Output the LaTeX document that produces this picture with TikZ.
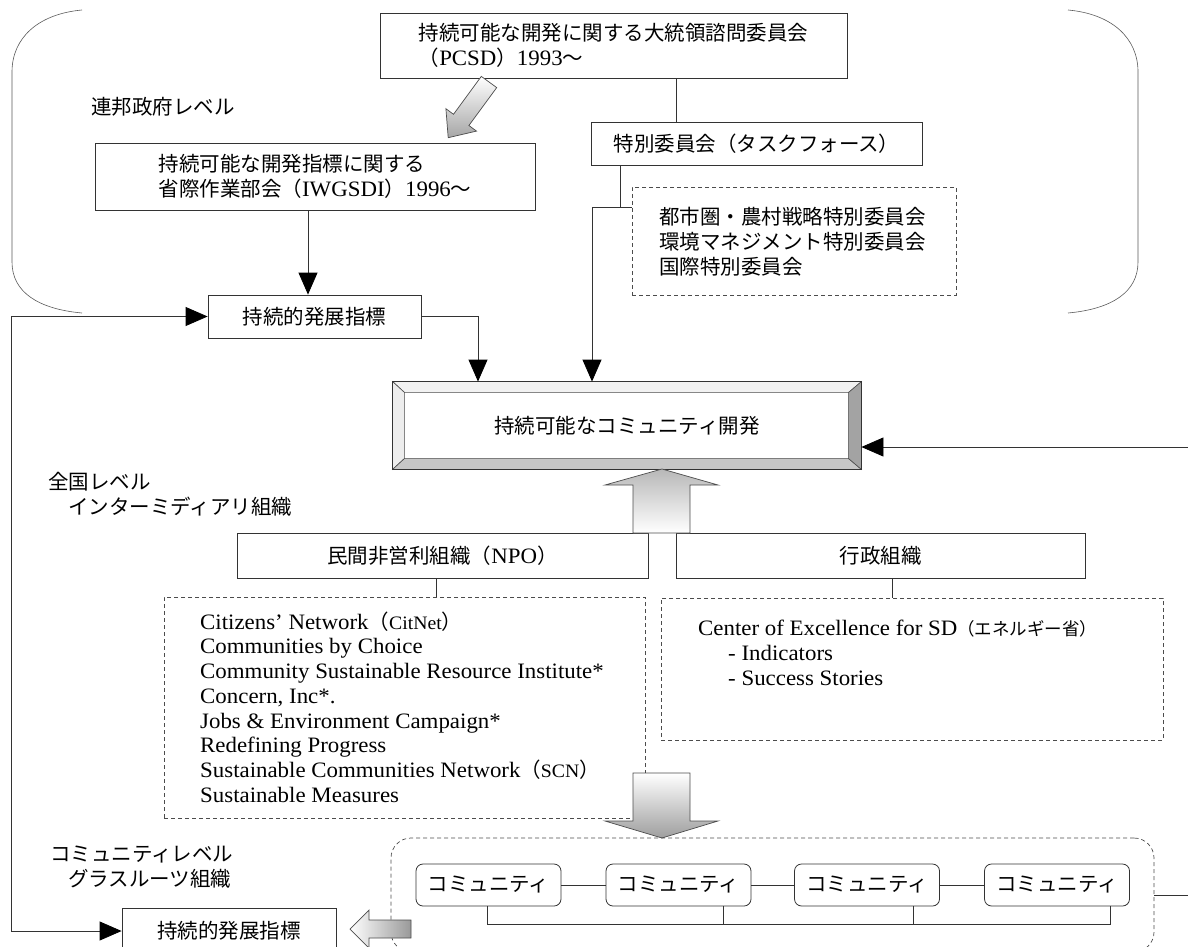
\documentclass[tikz,border=0pt]{standalone}
\usepackage{fontspec}
\setmainfont{Liberation Serif}[FakeStretch=1.04]
\newfontfamily\jpf{Noto Sans CJK JP}
\newcommand{\jpn}{\jpf\fontsize{20.5}{25}\selectfont}
\newcommand{\jps}{\jpf\fontsize{17.5}{25}\selectfont}
\newcommand{\latsm}{\fontsize{19}{24.7}\selectfont}
\usetikzlibrary{arrows.meta}
\begin{document}
\begin{tikzpicture}[x=1pt,y=-1pt,
  every node/.style={font=\fontsize{22}{24.7}\selectfont, inner sep=0pt},
  ln/.style={draw=black!80, line width=0.8pt},
  box/.style={draw=black!80, line width=0.8pt, fill=white, inner sep=0pt, align=left},
  dbox/.style={draw=black!70, line width=0.7pt, dash pattern=on 4pt off 3pt},
  cbox/.style={draw=black!80, line width=0.8pt, fill=white, rounded corners=7pt, minimum width=145, minimum height=42, font=\jpn},
  tip/.tip={Triangle[length=22pt,width=19pt,color=black]},
  arr/.style={ln, -tip},
  lbl/.style={anchor=west, align=left},
  blk/.style={draw=black!70, line width=0.7pt},
  brk/.style={draw=black!65, line width=0.6pt},
  bev/.style={draw=black!70, line width=0.6pt},
]
\useasboundingbox (0,0) rectangle (1188,947);

% federal-level brackets
\draw[brk] (82,10) .. controls (38,14) and (12,38) .. (12,72) -- (12,262) .. controls (12,292) and (38,309) .. (82,313);
\draw[brk] (1068,10) .. controls (1112,14) and (1138,38) .. (1138,72) -- (1138,262) .. controls (1138,292) and (1112,309) .. (1068,313);

% named x positions
\coordinate (X676) at (676,0);
\coordinate (X620) at (620,0);
\coordinate (tj) at (592,207);
\coordinate (X308) at (308,0);
\coordinate (X478) at (478,0);
\coordinate (X11) at (11,0);
\coordinate (X436) at (436,0);
\coordinate (X892) at (892,0);
\coordinate (busy) at (0,924);
\coordinate (X487) at (487,0);
\coordinate (X723) at (723,0);
\coordinate (X913) at (913,0);
\coordinate (X1110) at (1110,0);
\coordinate (rc) at (1196,447);

% top level boxes
\node[box, minimum width=467, minimum height=65] (pcsd) at (613.5,45.5)
  {{\jpn 持続可能な開発に関する大統領諮問委員会}\\{\jpn （}PCSD{\jpn ）}1993{\jpn ～}};
\node[box, minimum width=331, minimum height=43, font=\jpn] (task) at (756.5,143.5) {特別委員会（タスクフォース）};
\node[dbox, minimum width=324, minimum height=108] (tdet) at (794,241) {};
\node[lbl, font=\jpn] (tdettext) at (659,242) {都市圏・農村戦略特別委員会\\環境マネジメント特別委員会\\国際特別委員会};

\node[lbl, font=\jpn] (fedlbl) at (91,107) {連邦政府レベル};

\node[box, minimum width=440, minimum height=67] (iwg) at (315,176.5)
  {{\jpn 持続可能な開発指標に関する}\\{\jpn 省際作業部会（}IWGSDI{\jpn ）}1996{\jpn ～}};
\node[box, minimum width=213, minimum height=43, font=\jpn] (sdi1) at (314.5,316.5) {持続的発展指標};

% diagonal block arrow
\draw[blk, top color=white, bottom color=black!35] (496.7,87.6) -- (468.9,125.5) -- (476.5,131.1) -- (448.2,137.7) -- (445.9,108.7) -- (453.5,114.3) -- (481.3,76.4) -- cycle;

% main beveled box
\node[box, minimum width=468, minimum height=87, font=\jpn] (main) at (627,425.5) {持続可能なコミュニティ開発};
\filldraw[bev, fill=black!5] (main.north west) -- (main.north east) -- ([shift={(-13,11)}]main.north east) -- ([shift={(12,11)}]main.north west) -- cycle;
\filldraw[bev, fill=black!7] (main.north west) -- ([shift={(12,11)}]main.north west) -- ([shift={(12,-11)}]main.south west) -- (main.south west) -- cycle;
\filldraw[bev, fill=black!22] (main.south west) -- ([shift={(12,-11)}]main.south west) -- ([shift={(-13,-11)}]main.south east) -- (main.south east) -- cycle;
\filldraw[bev, fill=black!36] (main.north east) -- ([shift={(-13,11)}]main.north east) -- ([shift={(-13,-11)}]main.south east) -- (main.south east) -- cycle;
\draw[ln] (main.north west) rectangle (main.south east);

% national level
\node[lbl, font=\jpn] (natlbl) at (48,494) {全国レベル\\\hspace*{20pt}インターミディアリ組織};
\node[box, minimum width=411, minimum height=45] (npo) at (442.5,555.5) {{\jpn 民間非営利組織（}NPO{\jpn ）}};
\node[box, minimum width=409, minimum height=45, font=\jpn] (gyo) at (880.5,555.5) {行政組織};
\draw[blk, top color=black!28, bottom color=white] (633,533) -- (633,485) -- (605,485) -- (662,469) -- (718,485) -- (690,485) -- (690,533) -- cycle;

\node[dbox, minimum width=481, minimum height=221] (npol) at (404.5,707.5) {};
\node[lbl] (npotext) at (200,707) {Citizens’ Network{\jpn （}{\latsm CitNet}{\jpn ）}\\Communities by Choice\\Community Sustainable Resource Institute*\\Concern, Inc*.\\Jobs \& Environment Campaign*\\Redefining Progress\\Sustainable Communities Network{\jpn （}{\latsm SCN}{\jpn ）}\\Sustainable Measures};
\node[dbox, minimum width=502, minimum height=142] (govl) at (912,669) {};
\node[lbl] (govtext) at (698,653) {Center of Excellence for SD{\jps （エネルギー省）}\\\hspace*{30pt}- Indicators\\\hspace*{30pt}- Success Stories};

\draw[blk, top color=white, bottom color=black!38] (633,773) -- (690,773) -- (690,821) -- (718,821) -- (662,838) -- (605,821) -- (633,821) -- cycle;

% community level
\node[lbl, font=\jpn] (comlbl) at (50,867) {コミュニティレベル\\\hspace*{18pt}グラスルーツ組織};
\node[dbox, rounded corners=20pt, minimum width=763, minimum height=114] (comm) at (772.5,895) {};
\node[cbox] (c1) at (488.5,885) {コミュニティ};
\node[cbox] (c2) at (678.5,885) {コミュニティ};
\node[cbox] (c3) at (867,885) {コミュニティ};
\node[cbox] (c4) at (1057,885) {コミュニティ};
\node[box, minimum width=214, minimum height=46, font=\jpn] (sdi2) at (229,931) {持続的発展指標};
\draw[blk, left color=white, right color=black!40] (411,920) -- (369,920) -- (369,910) -- (350,929) -- (369,948) -- (369,938) -- (411,938) -- cycle;

% connectors
\draw[ln] (X676 |- pcsd.south) -- (X676 |- task.north);
\draw[ln] (X620 |- task.south) -- (X620 |- tj);
\draw[ln] (tj) -- (tj -| tdet.west);
\draw[arr] (tj) -- (tj |- main.north);
\draw[arr] (X308 |- iwg.south) -- (X308 |- sdi1.north);
\draw[arr] (sdi1.east) -| (X478 |- main.north);
\draw[ln, tip-tip] (sdi1.west) -| (X11 |- sdi2.west) -- (sdi2.west);
\draw[arr] (comm.east) -| (rc) -- (rc -| main.east);
\draw[ln] (X436 |- npo.south) -- (X436 |- npol.north);
\draw[ln] (X892 |- gyo.south) -- (X892 |- govl.north);
\draw[ln] (c1.east) -- (c2.west);
\draw[ln] (c2.east) -- (c3.west);
\draw[ln] (c3.east) -- (c4.west);
\draw[ln] (X487 |- c1.south) -- (X487 |- busy) -- (X1110 |- busy) -- (X1110 |- c4.south);
\draw[ln] (X723 |- c2.south) -- (X723 |- busy);
\draw[ln] (X913 |- c3.south) -- (X913 |- busy);
\end{tikzpicture}
\end{document}
